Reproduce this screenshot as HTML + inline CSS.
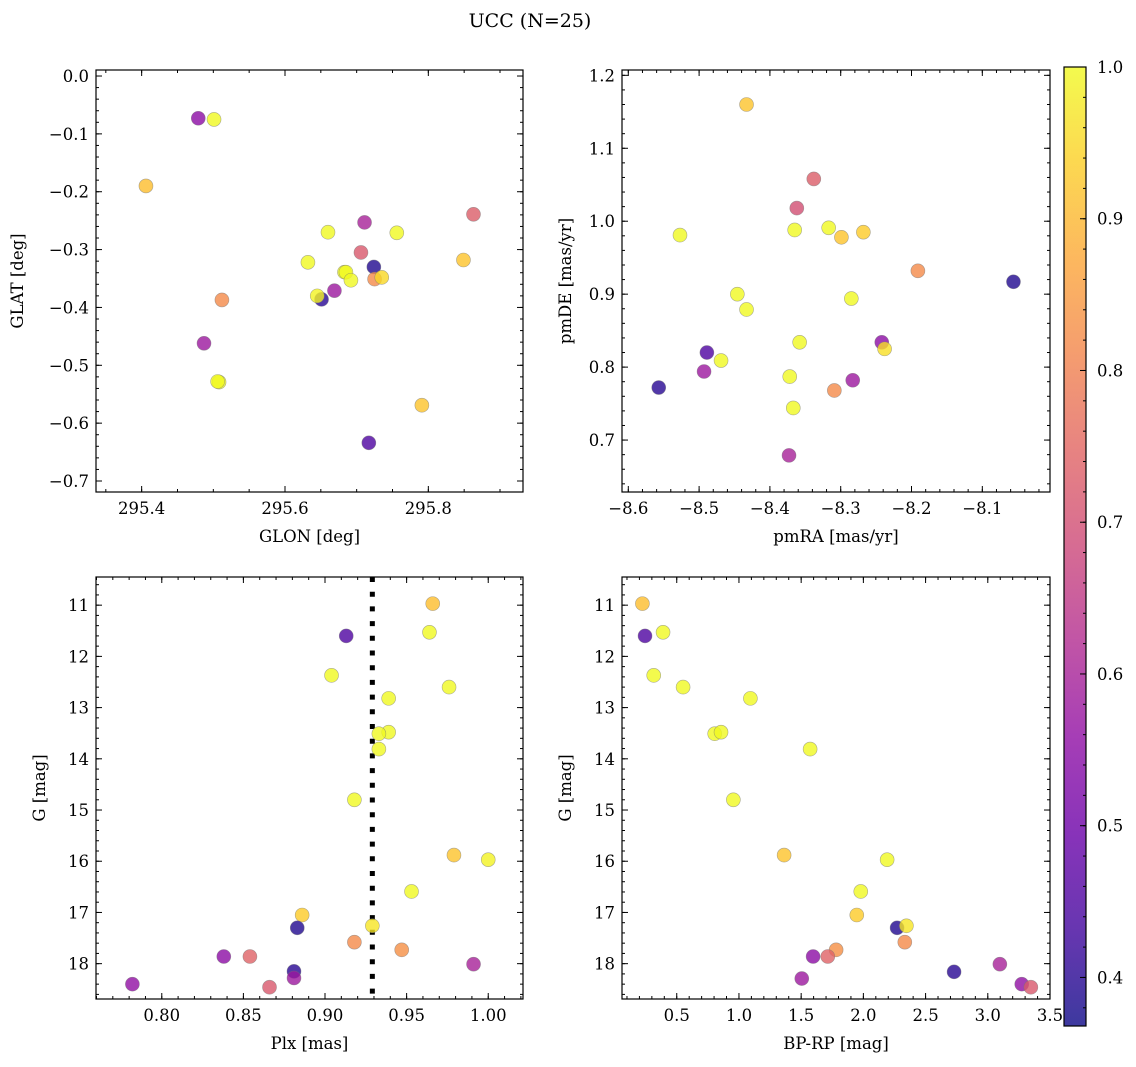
<!DOCTYPE html>
<html><head><meta charset="utf-8"><style>
html,body{margin:0;padding:0;background:#fff;}
svg{display:block;font-family:"DejaVu Serif","Liberation Serif",serif;}
</style></head><body>
<svg id="fig" width="1136" height="1067" viewBox="0 0 1136 1067" xmlns="http://www.w3.org/2000/svg">
<text x="530" y="27" text-anchor="middle" font-size="19">UCC (N=25)</text>
</svg>
<script>
// ---- data: panel 1 (GLON / GLAT)
const glon1 = [295.479,295.501,295.406,295.863,295.711,295.660,295.756,295.706,295.849,295.632,295.724,295.683,295.685,295.692,295.725,295.735,295.669,295.651,295.645,295.512,295.487,295.508,295.506,295.791,295.717];
const glat1 = [-0.073,-0.075,-0.190,-0.239,-0.253,-0.270,-0.271,-0.305,-0.318,-0.322,-0.330,-0.339,-0.339,-0.353,-0.351,-0.348,-0.371,-0.386,-0.380,-0.387,-0.462,-0.529,-0.528,-0.569,-0.634];
const prob1 = [0.55,1.0,0.91,0.73,0.60,1.0,1.0,0.72,0.92,1.0,0.39,1.0,1.0,1.0,0.82,0.95,0.58,0.40,0.99,0.82,0.58,1.0,1.0,0.92,0.45];
// ---- data: panel 2 (pmRA / pmDE)
const pmra2 = [-8.433,-8.338,-8.362,-8.527,-8.365,-8.317,-8.299,-8.268,-8.191,-8.056,-8.446,-8.433,-8.285,-8.358,-8.242,-8.238,-8.489,-8.469,-8.493,-8.557,-8.372,-8.283,-8.309,-8.367,-8.373];
const pmde2 = [1.160,1.058,1.018,0.981,0.988,0.991,0.978,0.985,0.932,0.917,0.900,0.879,0.894,0.834,0.834,0.825,0.820,0.809,0.794,0.772,0.787,0.782,0.768,0.744,0.679];
const prob2 = [0.92,0.73,0.70,1.0,1.0,1.0,0.92,0.93,0.82,0.39,1.0,1.0,1.0,1.0,0.55,0.96,0.45,1.0,0.58,0.40,1.0,0.58,0.82,1.0,0.60];
// ---- data: panel 3 (Plx / G)
const plx3 = [0.966,0.964,0.913,0.904,0.976,0.939,0.939,0.933,0.933,0.918,0.979,1.000,0.953,0.886,0.883,0.929,0.918,0.947,0.838,0.854,0.991,0.881,0.881,0.782,0.866];
const g3 = [10.97,11.53,11.60,12.37,12.60,12.82,13.48,13.51,13.81,14.80,15.88,15.97,16.59,17.05,17.30,17.26,17.58,17.73,17.86,17.86,18.01,18.15,18.28,18.40,18.46];
const prob3 = [0.91,1.0,0.45,1.0,1.0,1.0,1.0,1.0,1.0,1.0,0.92,0.99,1.0,0.93,0.39,0.97,0.82,0.83,0.55,0.74,0.60,0.40,0.58,0.56,0.72];
const plxLine = 0.929;
// ---- data: panel 4 (BP-RP / G)
const bprp4 = [0.224,0.245,0.390,0.315,0.551,1.092,0.805,0.856,1.572,0.955,1.363,2.191,1.979,1.947,2.271,2.346,2.333,1.781,1.596,1.714,3.097,2.729,1.505,3.273,3.346];
const g4 = [10.97,11.60,11.53,12.37,12.60,12.82,13.51,13.48,13.81,14.80,15.88,15.97,16.59,17.05,17.30,17.26,17.58,17.73,17.86,17.86,18.01,18.16,18.29,18.40,18.46];
const prob4 = [0.91,0.45,1.0,1.0,1.0,1.0,1.0,1.0,1.0,1.0,0.92,1.0,1.0,0.93,0.39,0.97,0.82,0.83,0.55,0.74,0.60,0.40,0.58,0.56,0.72];
// ---- colorbar
const cbTicks = [0.4,0.5,0.6,0.7,0.8,0.9,1.0];
const vmin = 0.368, vmax = 1.0;

const NS = "http://www.w3.org/2000/svg";
const svg = document.getElementById('fig');
function mk(tag, attrs, parent){const e=document.createElementNS(NS,tag);for(const k in attrs)e.setAttribute(k,attrs[k]);(parent||svg).appendChild(e);return e;}
const plasma = ["#0d0887","#41049d","#6a00a8","#8f0da4","#b12a90","#cc4778","#e16462","#f2844b","#fca636","#fcce25","#f0f921"];
function hex(h){return [parseInt(h.substr(1,2),16),parseInt(h.substr(3,2),16),parseInt(h.substr(5,2),16)];}
function cmap(v){let t=(v-vmin)/(vmax-vmin);t=Math.max(0,Math.min(1,t));const s=t*10,i=Math.min(9,Math.floor(s)),f=s-i;const a=hex(plasma[i]),b=hex(plasma[i+1]);return 'rgb('+a.map((c,j)=>Math.round(c+(b[j]-c)*f)).join(',')+')';}
function fmt(v,d){const s=Math.abs(v).toFixed(d);return (v<-1e-9?'\u2212':'')+s;}

function panel(o){
  const {x0,x1,y0,y1,xmin,xmax,ymin,ymax,invY} = o;
  const sx=v=>x0+(v-xmin)/(xmax-xmin)*(x1-x0);
  const sy=v=>invY? y0+(v-ymin)/(ymax-ymin)*(y1-y0) : y1-(v-ymin)/(ymax-ymin)*(y1-y0);
  const g=mk('g',{});
  
  
  const tk=(lo,hi,step)=>{const a=[];for(let v=Math.ceil(lo/step-1e-6)*step;v<=hi+1e-9;v+=step)a.push(Math.round(v/step)*step);return a;};
  const tg=mk('g',{stroke:'#000','stroke-width':1},g);
  tk(xmin,xmax,o.xminor).forEach(v=>{const x=sx(v);mk('line',{x1:x,x2:x,y1:y1,y2:y1-3},tg);mk('line',{x1:x,x2:x,y1:y0,y2:y0+3},tg);});
  tk(ymin,ymax,o.yminor).forEach(v=>{const y=sy(v);mk('line',{x1:x0,x2:x0+3,y1:y,y2:y},tg);mk('line',{x1:x1,x2:x1-3,y1:y,y2:y},tg);});
  o.xticks.forEach(v=>{const x=sx(v);mk('line',{x1:x,x2:x,y1:y1,y2:y1-6},tg);mk('line',{x1:x,x2:x,y1:y0,y2:y0+6},tg);
    const t=mk('text',{x:x,y:y1+22,'text-anchor':'middle','font-size':16.5},g);t.textContent=fmt(v,o.xdec);
    
    });
  o.yticks.forEach(v=>{const y=sy(v);mk('line',{x1:x0,x2:x0+6,y1:y,y2:y},tg);mk('line',{x1:x1,x2:x1-6,y1:y,y2:y},tg);
    const t=mk('text',{x:x0-7,y:y+6,'text-anchor':'end','font-size':16.5},g);t.textContent=fmt(v,o.ydec);
    
    });
  if(o.vline!==undefined){const l=mk('line',{x1:sx(o.vline),x2:sx(o.vline),y1:y0,y2:y1,stroke:'#000','stroke-width':5,'stroke-dasharray':'5 9.7'},g);
    
    }
  o.xs.forEach((xv,i)=>{const c=mk('circle',{cx:sx(xv),cy:sy(o.ys[i]),r:7,fill:cmap(o.cs[i]),'fill-opacity':0.8,stroke:'#777','stroke-opacity':0.6,'stroke-width':0.6},g);
    
    });
  const fr=mk('rect',{x:x0,y:y0,width:x1-x0,height:y1-y0,fill:'none',stroke:'#000','stroke-width':1.2},g);
  
  
  const xl=mk('text',{x:(x0+x1)/2,y:y1+50,'text-anchor':'middle','font-size':16.5},g);xl.textContent=o.xlabel;
  
  
  const yl=mk('text',{x:0,y:0,'text-anchor':'middle','font-size':16.5,transform:`translate(${o.ylx},${(y0+y1)/2}) rotate(-90)`},g);yl.textContent=o.ylabel;
  
  
}
panel({name:'glon-glat-panel',x0:96,x1:523,y0:70,y1:492,xmin:295.3363,xmax:295.9321,ymin:-0.719,ymax:0.0104,
  xticks:[295.4,295.6,295.8],xminor:0.05,xdec:1,yticks:[0,-0.1,-0.2,-0.3,-0.4,-0.5,-0.6,-0.7],yminor:0.02,ydec:1,
  xs:glon1,ys:glat1,cs:prob1,xlabel:'GLON [deg]',ylabel:'GLAT [deg]',ylx:23});
panel({name:'pm-panel',x0:622,x1:1050,y0:70,y1:492,xmin:-8.6089,xmax:-8.0044,ymin:0.6288,ymax:1.2073,
  xticks:[-8.6,-8.5,-8.4,-8.3,-8.2,-8.1],xminor:0.02,xdec:1,yticks:[0.7,0.8,0.9,1.0,1.1,1.2],yminor:0.02,ydec:1,
  xs:pmra2,ys:pmde2,cs:prob2,xlabel:'pmRA [mas/yr]',ylabel:'pmDE [mas/yr]',ylx:571});
panel({name:'plx-g-panel',x0:96,x1:523,y0:577,y1:999,xmin:0.7597,xmax:1.0213,ymin:10.45,ymax:18.69,invY:true,
  xticks:[0.8,0.85,0.9,0.95,1.0],xminor:0.01,xdec:2,yticks:[11,12,13,14,15,16,17,18],yminor:0.2,ydec:0,
  xs:plx3,ys:g3,cs:prob3,vline:plxLine,xlabel:'Plx [mas]',ylabel:'G [mag]',ylx:45});
panel({name:'cmd-panel',x0:622,x1:1050,y0:577,y1:999,xmin:0.060,xmax:3.5,ymin:10.45,ymax:18.69,invY:true,
  xticks:[0.5,1.0,1.5,2.0,2.5,3.0,3.5],xminor:0.1,xdec:1,yticks:[11,12,13,14,15,16,17,18],yminor:0.2,ydec:0,
  xs:bprp4,ys:g4,cs:prob4,xlabel:'BP-RP [mag]',ylabel:'G [mag]',ylx:571});

// colorbar
const cx0=1064,cx1=1086,cy0=67,cy1=1026;
const cy=v=>cy1-(v-vmin)/(vmax-vmin)*(cy1-cy0);
const defs=mk('defs',{});
const lg=mk('linearGradient',{id:'cbg',x1:0,y1:1,x2:0,y2:0},defs);
plasma.forEach((c,i)=>mk('stop',{offset:(i/10),'stop-color':c},lg));
const cbg=mk('g',{});


mk('rect',{x:cx0,y:cy0,width:cx1-cx0,height:cy1-cy0,fill:'url(#cbg)','fill-opacity':0.8},cbg);
for(let v=Math.ceil(vmin/0.02)*0.02;v<=vmax+1e-9;v+=0.02){const y=cy(v);mk('line',{x1:cx1,x2:cx1-3,y1:y,y2:y,stroke:'#000'},cbg);}
cbTicks.forEach(v=>{const y=cy(v);mk('line',{x1:cx1,x2:cx1-6,y1:y,y2:y,stroke:'#000'},cbg);
  const t=mk('text',{x:cx1+11,y:y+6,'font-size':16.5},cbg);t.textContent=v.toFixed(1);
  
  });
mk('rect',{x:cx0,y:cy0,width:cx1-cx0,height:cy1-cy0,fill:'none',stroke:'#000','stroke-width':1.2},cbg);
</script>
</body></html>
